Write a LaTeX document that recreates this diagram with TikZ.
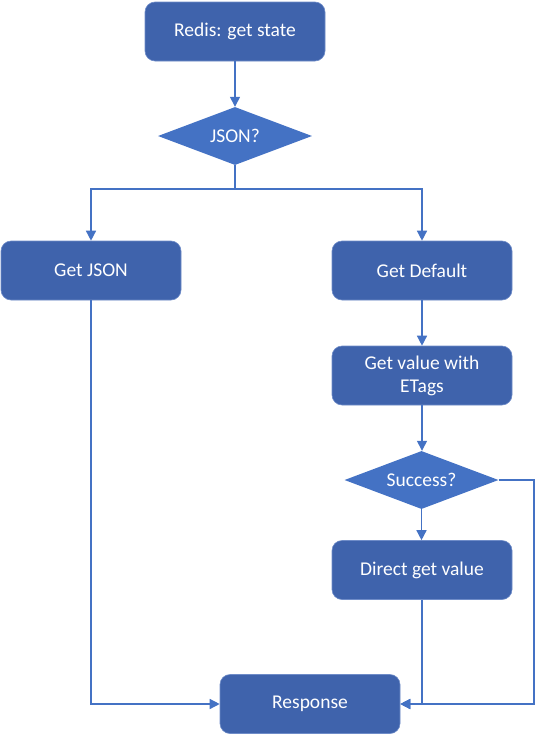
\documentclass[tikz,border=0pt]{standalone}
\usepackage{fontspec}
\setmainfont{Carlito}
\usetikzlibrary{shapes.geometric,arrows.meta}
\definecolor{boxfill}{HTML}{3F63AC}
\definecolor{boxline}{HTML}{6F8CC8}
\definecolor{dfill}{HTML}{4472C4}
\definecolor{lnc}{HTML}{4472C4}
\tikzset{
  stepbox/.style={rectangle, rounded corners=10pt, minimum width=180pt, minimum height=59pt,
    fill=boxfill, draw=boxline, line width=0.6pt, text=white, align=center,
    font=\fontsize{19.5}{23}\selectfont, inner sep=2pt},
  decbox/.style={diamond, minimum width=154pt, minimum height=58pt, inner sep=0pt, aspect=2.6,
    fill=dfill, draw=none, text=white, font=\fontsize{19.5}{23}\selectfont},
  conn/.style={draw=lnc, line width=1.4pt, -{Triangle[length=10pt,width=10pt]}},
  plain/.style={draw=lnc, line width=1.4pt}
}
\begin{document}
\begin{tikzpicture}[x=1pt,y=-1pt]
\useasboundingbox (0,0) rectangle (536,736);
\node[stepbox] (redis) at (235,31.5) {Redis: get state};
\node[decbox] (json) at (235,136) {JSON?};
\node[stepbox] (gjson) at (91,270.5) {Get JSON};
\node[stepbox] (gdef) at (422,270.5) {Get Default};
\node[stepbox] (getag) at (422,375.5) {Get value with\\ETags};
\node[decbox] (succ) at (421.5,480) {Success?};
\node[stepbox] (direct) at (422,570) {Direct get value};
\node[stepbox] (resp) at (310,704) {Response};
\coordinate (split) at (235,189);
\coordinate (cr) at (534,704);
\draw[conn] (redis) -- (json);
\draw[plain] (json.south) -- (split);
\draw[conn] (split) -| (gjson.north);
\draw[conn] (split) -| (gdef.north);
\draw[conn] (gdef) -- (getag);
\draw[conn] (getag.south) -- (getag.south |- succ.north);
\draw[conn] (succ.south) -- (succ.south |- direct.north);
\draw[conn] (gjson.south) |- (resp.west);
\draw[conn] (direct.south) |- (resp.east);
\draw[conn] (succ.east) -| (cr) -- (resp.east);
\end{tikzpicture}
\end{document}
